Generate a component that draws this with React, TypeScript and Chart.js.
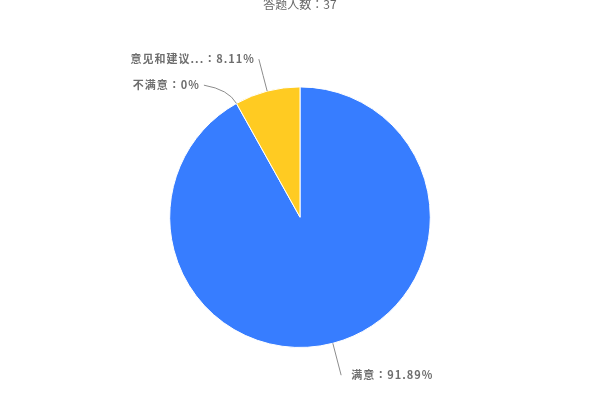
import { useEffect, useRef } from 'react';
import { Chart, registerables } from 'chart.js';

Chart.register(...registerables);

const categories = ['满意', '不满意', '意见和建议...'];
const counts = [34, 0, 3];
const colors = ['#377dff', '#ff5b5b', '#ffcb22'];
const titleText = '答题人数：37';

const total = counts.reduce((a, b) => a + b, 0);

const FONT_FAMILY = '"Noto Sans CJK JP", sans-serif';
const LABEL_FONT = `bold 11px ${FONT_FAMILY}`;
const LABEL_GAP = 26;

// draws the outside labels with curved leader lines
const pieLabels = {
  id: 'pieLabels',
  afterDatasetsDraw(chart: any) {
    const meta = chart.getDatasetMeta(0);
    const ctx = chart.ctx as CanvasRenderingContext2D;
    const items = meta.data.map((arc: any, i: number) => {
      const p = arc.getProps(['x', 'y', 'startAngle', 'endAngle', 'outerRadius'], true);
      const mid = (p.startAngle + p.endAngle) / 2;
      const cos = Math.cos(mid);
      const sin = Math.sin(mid);
      const R2 = p.outerRadius + 33;
      return { i, x: p.x, y: p.y, r: p.outerRadius, cos, sin, R2, right: cos >= 0, ly: p.y + R2 * sin };
    });

    [true, false].forEach((side) => {
      const group = items.filter((it: any) => it.right === side).sort((a: any, b: any) => a.ly - b.ly);
      for (let k = 1; k < group.length; k++) {
        if (group[k].ly < group[k - 1].ly + LABEL_GAP) group[k].ly = group[k - 1].ly + LABEL_GAP;
      }
    });

    ctx.save();
    ctx.font = LABEL_FONT;
    (ctx as any).letterSpacing = '1px';
    ctx.textBaseline = 'middle';
    items.forEach((it: any) => {
      const dy = it.ly - it.y;
      const dx = Math.sqrt(Math.max(it.R2 * it.R2 - dy * dy, 0));
      const ex = it.x + (it.right ? dx : -dx);
      const x0 = it.x + it.r * it.cos;
      const y0 = it.y + it.r * it.sin;
      const x1 = it.x + (it.r + 16) * it.cos;
      const y1 = it.y + (it.r + 16) * it.sin;

      ctx.strokeStyle = '#8c8c8c';
      ctx.lineWidth = 1;
      ctx.beginPath();
      ctx.moveTo(x0, y0);
      ctx.quadraticCurveTo(x1, y1, ex, it.ly);
      ctx.stroke();

      const pct = parseFloat(((counts[it.i] / total) * 100).toFixed(2));
      const text = `${categories[it.i]}：${pct}%`;
      ctx.fillStyle = '#6e6e6e';
      ctx.textAlign = it.right ? 'left' : 'right';
      ctx.fillText(text, ex + (it.right ? 10 : -4), it.ly);
    });
    ctx.restore();
  }
};

export default function App() {
  const canvasRef = useRef<HTMLCanvasElement>(null);

  useEffect(() => {
    if (!canvasRef.current) return;
    const chart = new Chart(canvasRef.current, {
      type: 'pie',
      data: {
        labels: categories,
        datasets: [
          {
            data: counts,
            backgroundColor: colors,
            borderColor: '#ffffff',
            borderWidth: 1
          }
        ]
      },
      options: {
        animation: false,
        responsive: true,
        maintainAspectRatio: false,
        layout: { padding: { top: 0, bottom: 52, left: 0, right: 0 } },
        plugins: {
          legend: { display: false },
          tooltip: { enabled: false },
          title: {
            display: true,
            text: titleText,
            color: '#666666',
            font: { family: FONT_FAMILY, size: 12, weight: 'normal' },
            padding: { top: -3, bottom: 75 }
          }
        }
      },
      plugins: [pieLabels]
    });
    return () => chart.destroy();
  }, []);

  return (
    <div style={{ position: 'fixed', left: 0, top: 0, width: 600, height: 400, background: '#fff' }}>
      <canvas ref={canvasRef} />
    </div>
  );
}
